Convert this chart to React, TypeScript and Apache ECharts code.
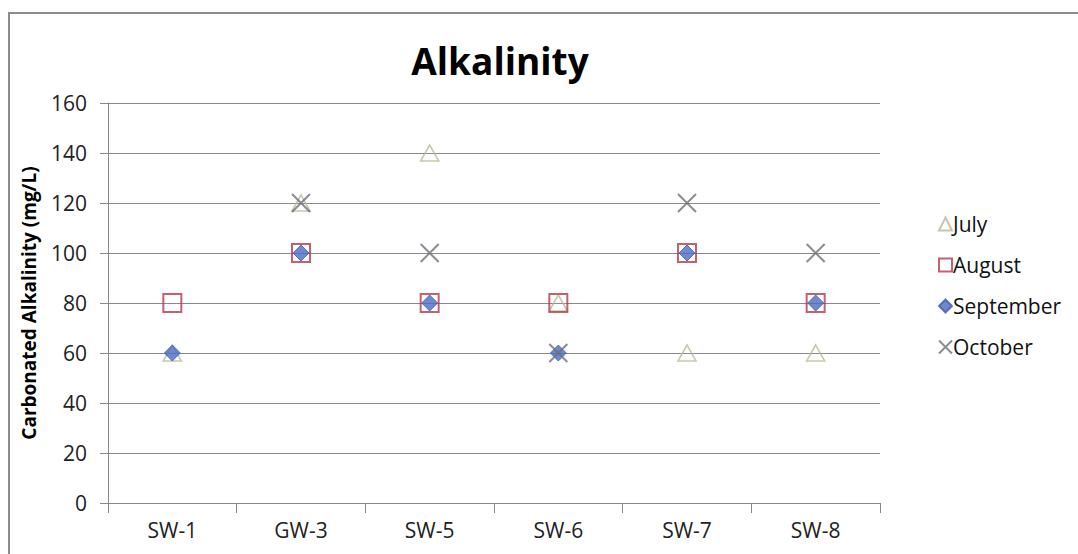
import React, { useEffect, useRef } from "react";
import * as echarts from "echarts";

const sites = ["SW-1", "GW-3", "SW-5", "SW-6", "SW-7", "SW-8"];
const july = [60, 120, 140, 80, 60, 60];
const august = [80, 100, 80, 80, 100, 80];
const september = [60, 100, 80, 60, 100, 80];
const october = [null, 120, 100, 60, 120, 100];
const yTicks = { min: 0, max: 160, interval: 20 };

const FONT = "'Open Sans', 'Noto Sans', sans-serif";
const CROSS = "path://M0,0L10,10M10,0L0,10";

export default function App() {
  const ref = useRef<HTMLDivElement>(null);

  useEffect(() => {
    document.body.style.margin = "0";
    const chart = echarts.init(ref.current!, null, { renderer: "svg" });
    chart.setOption({
      animation: false,
      backgroundColor: "#ffffff",
      title: {
        text: "Alkalinity",
        left: 495,
        top: 37,
        textAlign: "center",
        textStyle: { fontFamily: FONT, fontSize: 37, fontWeight: "bold", color: "#000" },
      },
      graphic: [
        {
          type: "rect",
          shape: { x: 9, y: 13, width: 1080, height: 560 },
          style: { fill: "none", stroke: "#8c8c8c", lineWidth: 2 },
          silent: true,
        },
      ],
      legend: {
        orient: "vertical",
        left: 933,
        top: 205,
        itemGap: 13,
        itemWidth: 13,
        itemHeight: 13,
        textStyle: { fontFamily: FONT, fontSize: 21, lineHeight: 28, color: "#111", padding: [0, 0, 0, -4] },
        data: ["July", "August", "September", "October"],
      },
      grid: { left: 108, right: 198, top: 103, bottom: 51, containLabel: false },
      xAxis: {
        type: "category",
        data: sites,
        boundaryGap: true,
        axisLine: { lineStyle: { color: "#888", width: 1 } },
        axisTick: { show: true, length: 10, lineStyle: { color: "#888" } },
        axisLabel: { fontFamily: FONT, fontSize: 21, color: "#222", margin: 16 },
      },
      yAxis: {
        type: "value",
        min: yTicks.min,
        max: yTicks.max,
        interval: yTicks.interval,
        name: "Carbonated Alkalinity (mg/L)",
        nameLocation: "middle",
        nameGap: 70,
        nameTextStyle: { fontFamily: FONT, fontSize: 19, fontWeight: "bold", color: "#000" },
        axisLine: { show: true, lineStyle: { color: "#888" } },
        axisTick: { show: true, length: 8, lineStyle: { color: "#888" } },
        axisLabel: { fontFamily: FONT, fontSize: 21, color: "#222", margin: 21 },
        splitLine: { lineStyle: { color: "#8a8a8a", width: 1 } },
      },
      series: [
        {
          name: "July",
          type: "scatter",
          data: july,
          symbol: "triangle",
          symbolSize: [18, 16],
          itemStyle: { color: "rgba(255,255,255,0)", borderColor: "#b9b99a", borderWidth: 1.6 },
        },
        {
          name: "August",
          type: "scatter",
          data: august,
          symbol: "rect",
          symbolSize: 18,
          itemStyle: { color: "rgba(255,255,255,0)", borderColor: "#b8384c", borderWidth: 2 },
        },
        {
          name: "September",
          type: "scatter",
          data: september,
          symbol: "diamond",
          symbolSize: [16, 16],
          itemStyle: { color: "#4a6cc0", borderColor: "#3f5fae", borderWidth: 1 },
        },
        {
          name: "October",
          type: "scatter",
          data: october,
          symbol: CROSS,
          symbolSize: 18,
          itemStyle: { color: "rgba(255,255,255,0)", borderColor: "#6f6f78", borderWidth: 2 },
        },
      ],
    });
    return () => chart.dispose();
  }, []);

  return (
    <div
      ref={ref}
      style={{ position: "fixed", left: 0, top: 0, width: 1078, height: 554 }}
    />
  );
}
